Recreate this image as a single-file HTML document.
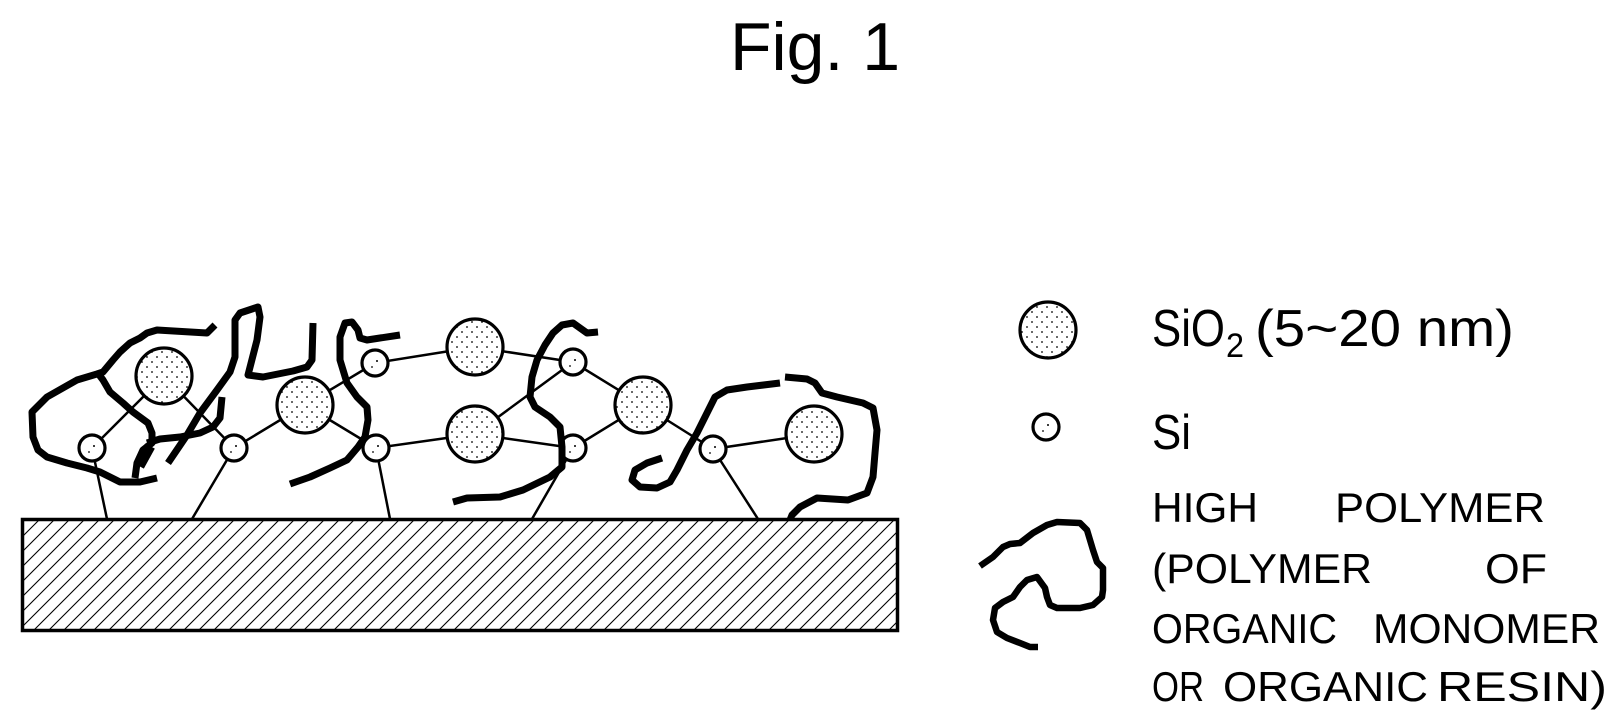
<!DOCTYPE html>
<html>
<head>
<meta charset="utf-8">
<style>
  html,body{margin:0;padding:0;background:#fff;}
  body{width:1624px;height:724px;overflow:hidden;}
  svg{display:block;}
  text{font-family:"Liberation Sans", Arial, sans-serif; fill:#000;}
</style>
</head>
<body>
<svg width="1624" height="724" viewBox="0 0 1624 724" xmlns="http://www.w3.org/2000/svg">
  <defs>
    <pattern id="dots" width="10" height="10" patternUnits="userSpaceOnUse">
      <rect width="10" height="10" fill="#fff"/>
      <circle cx="2" cy="2" r="0.9" fill="#000"/>
      <circle cx="7" cy="7" r="0.9" fill="#000"/>
    </pattern>
    <pattern id="hatch" width="15" height="15" patternUnits="userSpaceOnUse" x="4" y="0">
      <path d="M-1,1 l2,-2 M0,15 l15,-15 M14,16 l2,-2" stroke="#000" stroke-width="1.1"/>
    </pattern>
  </defs>

  <rect width="1624" height="724" fill="#fff"/>

  <!-- Title -->
  <text x="730" y="70" font-size="68">Fig. 1</text>

  <!-- Substrate -->
  <rect x="22.5" y="519.5" width="875" height="111" fill="url(#hatch)" stroke="#000" stroke-width="3.5"/>

  <!-- Thin connecting lines -->
  <g stroke="#000" stroke-width="2.5" fill="none" stroke-linecap="round">
    <line x1="92" y1="448" x2="164" y2="376"/>
    <line x1="164" y1="376" x2="234" y2="448"/>
    <line x1="234" y1="448" x2="305" y2="405"/>
    <line x1="305" y1="405" x2="375" y2="363"/>
    <line x1="305" y1="405" x2="376" y2="448"/>
    <line x1="375" y1="363" x2="475" y2="347"/>
    <line x1="376" y1="448" x2="475" y2="434"/>
    <line x1="475" y1="347" x2="573" y2="362"/>
    <line x1="475" y1="434" x2="573" y2="362"/>
    <line x1="475" y1="434" x2="573" y2="448"/>
    <line x1="573" y1="362" x2="643" y2="405"/>
    <line x1="573" y1="448" x2="643" y2="405"/>
    <line x1="643" y1="405" x2="713" y2="449"/>
    <line x1="713" y1="449" x2="814" y2="434"/>
    <!-- anchors to substrate -->
    <line x1="92" y1="448" x2="107" y2="519"/>
    <line x1="234" y1="448" x2="192" y2="519"/>
    <line x1="376" y1="448" x2="390" y2="519"/>
    <line x1="573" y1="448" x2="532" y2="519"/>
    <line x1="713" y1="449" x2="758" y2="519"/>
  </g>

  <!-- SiO2 particles -->
  <g fill="url(#dots)" stroke="#000" stroke-width="3.2">
    <circle cx="164" cy="376" r="28"/>
    <circle cx="305" cy="405" r="28"/>
    <circle cx="475" cy="347" r="28"/>
    <circle cx="475" cy="434" r="28"/>
    <circle cx="643" cy="405" r="28"/>
    <circle cx="814" cy="434" r="28"/>
  </g>

  <!-- Si atoms -->
  <g stroke="#000" stroke-width="3.2" fill="#fff">
    <circle cx="92" cy="448" r="13"/>
    <circle cx="234" cy="448" r="13"/>
    <circle cx="375" cy="363" r="13"/>
    <circle cx="376" cy="448" r="13"/>
    <circle cx="573" cy="362" r="13"/>
    <circle cx="573" cy="448" r="13"/>
    <circle cx="713" cy="449" r="13"/>
  </g>
  <g fill="#000">
    <circle cx="94" cy="446" r="1"/><circle cx="89" cy="452" r="0.9"/>
    <circle cx="236" cy="446" r="1"/><circle cx="231" cy="452" r="0.9"/>
    <circle cx="377" cy="361" r="1"/><circle cx="372" cy="367" r="0.9"/>
    <circle cx="378" cy="446" r="1"/><circle cx="373" cy="452" r="0.9"/>
    <circle cx="575" cy="360" r="1"/><circle cx="570" cy="366" r="0.9"/>
    <circle cx="575" cy="446" r="1"/><circle cx="570" cy="452" r="0.9"/>
    <circle cx="715" cy="447" r="1"/><circle cx="710" cy="453" r="0.9"/>
  </g>

  <!-- Polymer chains -->
  <g stroke="#000" stroke-width="7" fill="none" stroke-linejoin="round" stroke-linecap="butt">
    <!-- P1 loop -->
    <path d="M215,325 L207,333 L157,330 L147,333 L140,338 L130,343 L120,352 L113,360 L103,372 L97,374 L77,380 L47,397 L32,412 L33,437 L38,450 L47,457 L67,463 L87,468 L100,472 L110,477 L120,482 L140,482 L157,478"/>
    <!-- P1 branch down -->
    <path d="M97,372 L103,380 L110,392 L123,403 L133,412 L148,423 L152,433 L152,443 L143,450 L137,463 L135,478"/>
    <!-- P1 hook -->
    <path d="M147,443 L160,439 L180,437 L200,433 L213,427 L220,418 L222,397"/>
    <!-- P2 -->
    <path d="M168,463 L187,435 L200,413 L217,390 L230,372 L235,357 L235,320 L240,313 L258,307 L260,317 L257,340 L248,375 L263,377 L293,371 L307,367 L312,360 L313,323"/>
    <!-- P3 -->
    <path d="M400,335 L367,340 L360,338 L358,330 L352,322 L345,323 L340,337 L340,360 L347,383 L357,397 L367,407 L368,420 L365,437 L358,447 L347,460 L330,468 L310,477 L290,484"/>
    <!-- P4 -->
    <path d="M598,332 L587,333 L573,323 L562,325 L553,333 L545,345 L537,360 L532,377 L530,397 L535,407 L550,417 L560,427 L562,447 L562,467 L550,477 L523,490 L500,497 L467,498 L453,502"/>
    <!-- P5 -->
    <path d="M662,458 L647,463 L635,470 L632,480 L640,487 L657,488 L670,482 L677,470 L687,450 L697,433 L707,413 L715,397 L727,390 L747,387 L780,383"/>
    <!-- P6 -->
    <path d="M785,377 L807,379 L815,383 L822,393 L837,397 L863,403 L873,408 L877,430 L875,453 L873,477 L867,493 L848,500 L817,498 L800,507 L792,515 L790,520"/>
  </g>
  <!-- thick blob -->
  <path d="M150,446 L139,466" stroke="#000" stroke-width="11" fill="none"/>

  <!-- Legend -->
  <circle cx="1048" cy="330" r="28" fill="url(#dots)" stroke="#000" stroke-width="3.2"/>
  <circle cx="1046" cy="427" r="13" fill="#fff" stroke="#000" stroke-width="3.2"/>
  <circle cx="1048" cy="425" r="1" fill="#000"/>
  <circle cx="1043" cy="431" r="0.9" fill="#000"/>

  <path d="M980,566 L993,557 L1003,547 L1010,544 L1020,543 L1033,533 L1047,525 L1057,522 L1080,523 L1087,530 L1093,550 L1097,562 L1103,568 L1103,590 L1102,597 L1093,605 L1080,608 L1057,608 L1050,605 L1047,597 L1045,588 L1037,577 L1027,580 L1020,587 L1013,597 L1003,602 L995,608 L993,620 L997,632 L1007,638 L1020,643 L1030,647 L1038,647" stroke="#000" stroke-width="6.5" fill="none" stroke-linejoin="round"/>

  <text x="1152" y="346" font-size="52" textLength="73" lengthAdjust="spacingAndGlyphs">SiO</text>
  <text x="1226" y="357" font-size="34" textLength="18" lengthAdjust="spacingAndGlyphs">2</text>
  <text x="1255" y="346" font-size="52" textLength="259" lengthAdjust="spacingAndGlyphs">(5~20 nm)</text>

  <text x="1152" y="449" font-size="49" textLength="39" lengthAdjust="spacingAndGlyphs">Si</text>

  <g font-size="42">
    <text x="1152" y="522" textLength="106" lengthAdjust="spacingAndGlyphs">HIGH</text>
    <text x="1335" y="522" textLength="210" lengthAdjust="spacingAndGlyphs">POLYMER</text>

    <text x="1152" y="583" textLength="220" lengthAdjust="spacingAndGlyphs">(POLYMER</text>
    <text x="1485" y="583" textLength="62" lengthAdjust="spacingAndGlyphs">OF</text>

    <text x="1152" y="643" textLength="185" lengthAdjust="spacingAndGlyphs">ORGANIC</text>
    <text x="1373" y="643" textLength="227" lengthAdjust="spacingAndGlyphs">MONOMER</text>

    <text x="1152" y="701" textLength="52" lengthAdjust="spacingAndGlyphs">OR</text>
    <text x="1223" y="701" textLength="205" lengthAdjust="spacingAndGlyphs">ORGANIC</text>
    <text x="1437" y="701" textLength="170" lengthAdjust="spacingAndGlyphs">RESIN)</text>
  </g>
</svg>
</body>
</html>
